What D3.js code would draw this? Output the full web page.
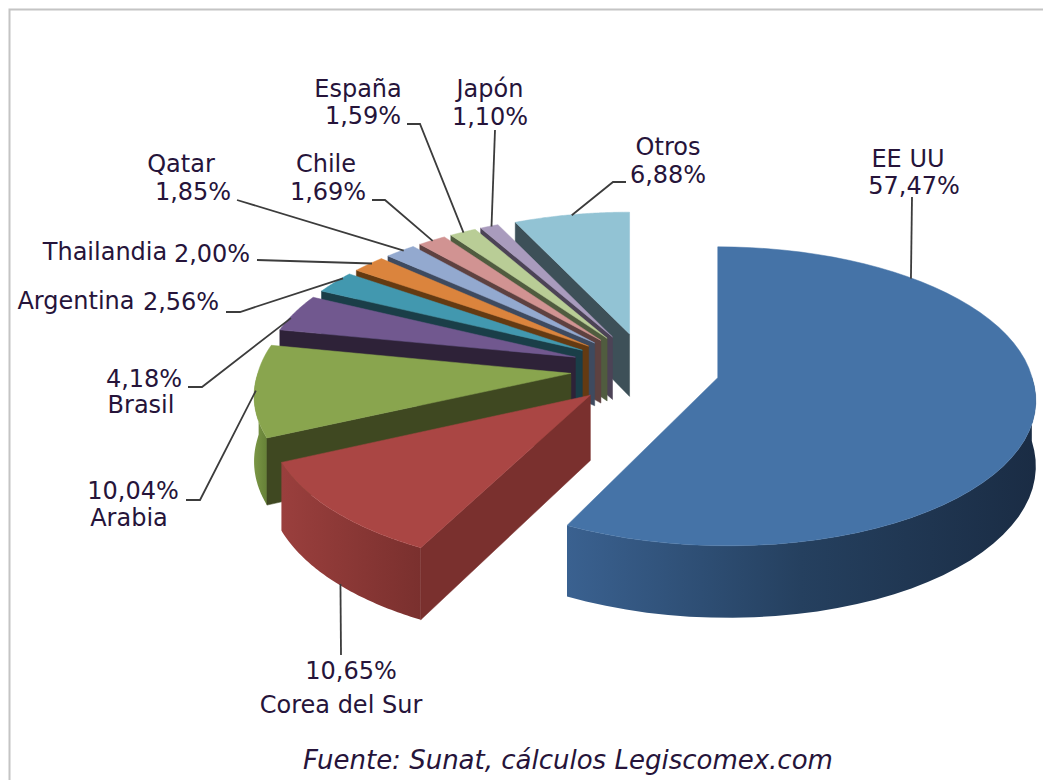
<!DOCTYPE html>
<html><head><meta charset="utf-8">
<script src="https://cdnjs.cloudflare.com/ajax/libs/d3/7.8.5/d3.min.js"></script>
<style>html,body{margin:0;padding:0;background:#fff}svg{display:block}</style></head>
<body><svg id="c" width="1043" height="780"></svg>
<script>
const categories = ["EE UU","Corea del Sur","Arabia","Brasil","Argentina","Thailandia","Qatar","Chile","España","Japón","Otros"];
const shares = [57.47,10.65,10.04,4.18,2.56,2.00,1.85,1.69,1.59,1.10,6.88];
const sourceNote = "Fuente: Sunat, cálculos Legiscomex.com";

const topColors = ["#4573a7","#aa4644","#89a54e","#71588f","#4298af","#db843d","#93a9cf","#d19392","#b9cd96","#a99bbd","#92c3d4"];
const faceColors = ["#2d4b6e","#7a302e","#3f4821","#2e2238","#1a3e48","#643a12","#3e4a5f","#5e4140","#505c3f","#4c4356","#3d5058"];
const wallFrom = ["#3a6190","#9a3f3d","#7a9645","#5e4a78","#367f94","#b86f33","#7b8eae","#af7b7a","#9bac7e","#8d82a0","#7aa4b2"];
const wallTo = ["#1a2c44","#7a302e","#5f7a33","#2e2238","#1a3e48","#643a12","#3e4a5f","#5e4140","#505c3f","#4c4356","#3d5058"];

// label layout and leader routing
const nameAt = [[908,167],[341,713],[129,526],[141,413],[76,309],[105,260],[181,172],[326,172],[358,97],[490,97],[668,155]];
const valueAt = [[914,194],[351,679],[133,499],[144,387],[181,310],[212,262],[193,200],[328,200],[363,124],[490,125],[668,183]];
const leaderFrom = [
  [[912,197]],[[341,655]],[[186,500],[200,500]],[[188,387],[202,387]],[[226,312],[240,312]],
  [[257,260]],[[237,200]],[[372,200],[385,200]],[[407,124],[420,124]],[[495,130]],[[626,182],[613,182]]];
const leaderT = [0.205,0.46,0.5,0.35,0.75,0.6,0.6,0.5,0.5,0.6,0.5];
const leaderZ = [0,1,0,0,0,0,0,0,0,0,0];

const cx=645, cy=369, R=312, K=145, persp=0.124, explodeX=0.238, explodeY=0.255;

const svg = d3.select("#c");
svg.append("path").attr("d","M9.5,780V9.5H1043").attr("fill","none").attr("stroke","#c4c4c4").attr("stroke-width",2);
const defs = svg.append("defs");

const pie = d3.pie().sort(null).value(d=>d).startAngle(0).endAngle(2*Math.PI);
const arcs = pie(shares);

function project(sl, r, ang, z){
  const bis=(sl.startAngle+sl.endAngle)/2;
  const ox=explodeX*Math.sin(bis), oy=-explodeY*Math.cos(bis);
  const rx=r*Math.sin(ang), ry=-r*Math.cos(ang);
  const s=1/(1-persp*(oy+ry));
  const su=1/(1-persp*(oy+Math.max(ry,0)));
  return [cx+R*(ox*su+rx*s), cy+K*(oy+ry)*s+z*(64+53*(s-1))];
}
const line=d3.line();
const order=d3.range(arcs.length).sort((a,b)=>{
  const f=i=>-Math.cos((arcs[i].startAngle+arcs[i].endAngle)/2);
  return f(a)-f(b);
});
const rimAngles=sl=>d3.range(0,61).map(i=>sl.startAngle+(sl.endAngle-sl.startAngle)*i/60);

order.forEach(i=>{
  const sl=arcs[i], g=svg.append("g");
  const rim=rimAngles(sl);
  const topRim=rim.map(a=>project(sl,1,a,0)), botRim=rim.map(a=>project(sl,1,a,1));
  const xs=d3.extent(topRim,p=>p[0]);
  const grad=defs.append("linearGradient").attr("id","w"+i).attr("gradientUnits","userSpaceOnUse")
    .attr("x1",xs[0]).attr("x2",xs[1]).attr("y1",0).attr("y2",0);
  grad.append("stop").attr("offset",0).attr("stop-color",wallFrom[i]);
  if(i===0) grad.append("stop").attr("offset",0.5).attr("stop-color","#25405f");
  grad.append("stop").attr("offset",1).attr("stop-color",wallTo[i]);
  const apex=project(sl,0,0,0), apexB=project(sl,0,0,1);
  // only the front half of the outer wall can be seen
  const frontIdx=d3.range(rim.length).filter(k=>Math.cos(rim[k])<0.02);
  if(frontIdx.length>1){
    const wt=frontIdx.map(k=>topRim[k]), wb=frontIdx.map(k=>botRim[k]);
    g.append("path").attr("d",line(wt.concat(wb.reverse()))+"Z").attr("fill",`url(#w${i})`);
  }
  if(Math.sin(sl.startAngle)<-1e-6){
    g.append("path").attr("d",line([apex,topRim[0],botRim[0],apexB])+"Z").attr("fill",faceColors[i]).attr("stroke",faceColors[i]).attr("stroke-width",.5);
  }
  if(Math.sin(sl.endAngle)>1e-6){
    const n=topRim.length-1;
    g.append("path").attr("d",line([apex,topRim[n],botRim[n],apexB])+"Z").attr("fill",faceColors[i]);
  }
  g.append("path").attr("d",line([apex].concat(topRim))+"Z").attr("fill",topColors[i]).attr("stroke",topColors[i]).attr("stroke-width",.5);
});

const leaders=svg.append("g").attr("fill","none").attr("stroke","#3c3c3c").attr("stroke-width",1.8);
arcs.forEach((sl,i)=>{
  const a=sl.startAngle+(sl.endAngle-sl.startAngle)*leaderT[i];
  const end=project(sl,0.995,a,leaderZ[i]);
  leaders.append("path").attr("d",line(leaderFrom[i].concat([end])));
});

const txt=svg.append("g").attr("font-family","'DejaVu Sans',sans-serif").attr("font-size",24).attr("fill","#26143a").attr("text-anchor","middle");
categories.forEach((c,i)=>{
  txt.append("text").attr("x",nameAt[i][0]).attr("y",nameAt[i][1]).text(c);
  txt.append("text").attr("x",valueAt[i][0]).attr("y",valueAt[i][1]).text(shares[i].toFixed(2).replace(".",",")+"%");
});
svg.append("text").attr("x",568).attr("y",769).attr("text-anchor","middle")
  .attr("font-family","'DejaVu Sans',sans-serif").attr("font-style","italic").attr("font-size",26).attr("fill","#26143a").text(sourceNote);
</script></body></html>
